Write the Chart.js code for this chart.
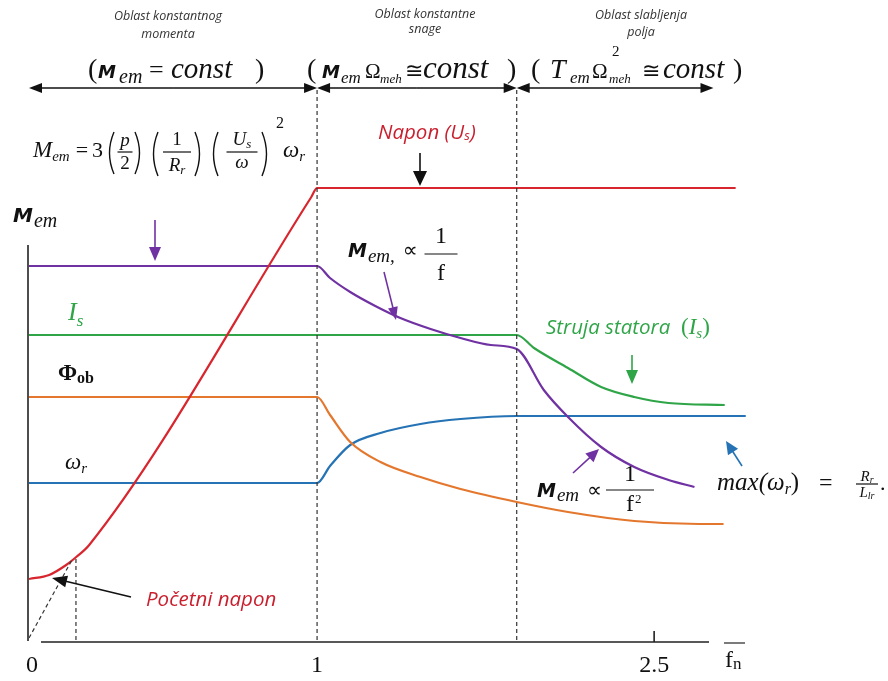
<!DOCTYPE html>
<html>
<head>
<meta charset="utf-8">
<script src="https://cdn.jsdelivr.net/npm/chart.js@4.4.1/dist/chart.umd.min.js"></script>
<style>
  html, body { margin: 0; padding: 0; background: #fff; }
</style>
</head>
<body>
<canvas id="fnChart" width="888" height="681"></canvas>
<script>
// x: f / fn (relative stator frequency), y: relative magnitude
var xTickValues = [0, 1, 2.17];
var xTickLabels = ['0', '1', '2.5'];
var regionBounds = [0, 1, 1.693, 2.376];

var naponUs = [[0, 0.61], [0.07, 0.65], [0.129, 0.75], [0.164, 0.83], [0.209, 0.95], [0.98, 4.43], [1, 4.52], [2.453, 4.52]];
var momentMem = [[0, 3.74], [1, 3.74], [1.045, 3.62], [1.115, 3.48], [1.202, 3.34], [1.289, 3.22], [1.394, 3.11],
  [1.498, 3.02], [1.603, 2.95], [1.693, 2.91], [1.787, 2.50], [1.871, 2.23], [1.986, 1.93], [2.101, 1.73],
  [2.22, 1.60], [2.31, 1.53]];
var strujaIs = [[0, 3.05], [1.693, 3.05], [1.753, 2.92], [1.871, 2.72], [1.986, 2.53], [2.101, 2.43],
  [2.22, 2.37], [2.415, 2.35]];
var fluksPhi = [[0, 2.43], [1, 2.43], [1.045, 2.25], [1.115, 1.98], [1.22, 1.78], [1.359, 1.63], [1.498, 1.51],
  [1.693, 1.38], [1.871, 1.28], [2.101, 1.19], [2.324, 1.16], [2.411, 1.16]];
var omegaR = [[0, 1.57], [1, 1.57], [1.045, 1.74], [1.115, 1.95], [1.22, 2.07], [1.359, 2.16], [1.498, 2.21],
  [1.693, 2.24], [2.488, 2.24]];

// helper lines: start voltage construction and region borders
var startDiag = [[0, 0.02], [0.149, 0.80]];
var startVert = [[0.163, 0], [0.163, 0.83]];
var border1 = [[1, 0], [1, 5.52]];
var border2 = [[1.693, 0], [1.693, 5.52]];

var RED = '#d8262f', PURPLE = '#7031a2', GREEN = '#2fa548', ORANGE = '#e4772e', BLUE = '#2573b4';
var TXT_RED = '#c9202f';
var SERIF = '"Liberation Serif", "DejaVu Serif", serif';
var SANS = '"Open Sans", "Noto Sans", sans-serif';
var MBOLD = 'italic bold 18px "DejaVu Sans"';

function pts(a) {
  return a.map(function (p) { return { x: p[0], y: p[1] }; });
}
function curve(a, color) {
  return { data: pts(a), borderColor: color, borderWidth: 2.2, pointRadius: 0, fill: false,
    cubicInterpolationMode: 'monotone' };
}
function dashed(a) {
  return { data: pts(a), borderColor: '#333', borderWidth: 1.2, borderDash: [4, 3], pointRadius: 0, tension: 0 };
}

function txt(ctx, s, x, y, font, color, align) {
  ctx.font = font;
  ctx.fillStyle = color || '#111';
  ctx.textAlign = align || 'left';
  ctx.textBaseline = 'alphabetic';
  ctx.fillText(s, x, y);
  return x + ctx.measureText(s).width;
}
// pieces: [text, font, dy, gapAfter]
function run(ctx, x, y, pieces, color) {
  pieces.forEach(function (p) {
    x = txt(ctx, p[0], x, y + (p[2] || 0), p[1], color) + (p[3] || 0);
  });
  return x;
}
function runWidth(ctx, pieces) {
  var w = 0;
  pieces.forEach(function (p) { ctx.font = p[1]; w += ctx.measureText(p[0]).width + (p[3] || 0); });
  return w;
}
function frac(ctx, cx, barY, w, num, den, numDy, denDy, color) {
  ctx.strokeStyle = color || '#111';
  ctx.lineWidth = 1.2;
  ctx.beginPath();
  ctx.moveTo(cx - w / 2, barY);
  ctx.lineTo(cx + w / 2, barY);
  ctx.stroke();
  run(ctx, cx - runWidth(ctx, num) / 2, barY - numDy, num, color);
  run(ctx, cx - runWidth(ctx, den) / 2, barY + denDy, den, color);
}
function paren(ctx, x, top, bot, open) {
  var mid = (top + bot) / 2;
  ctx.strokeStyle = '#111';
  ctx.lineWidth = 1.4;
  ctx.beginPath();
  if (open) {
    ctx.moveTo(x + 6, top);
    ctx.quadraticCurveTo(x - 3, mid, x + 6, bot);
  } else {
    ctx.moveTo(x, top);
    ctx.quadraticCurveTo(x + 9, mid, x, bot);
  }
  ctx.stroke();
}
function arrow(ctx, x1, y1, x2, y2, color, len, half, lw) {
  var a = Math.atan2(y2 - y1, x2 - x1), c = Math.cos(a), s = Math.sin(a);
  ctx.strokeStyle = color;
  ctx.fillStyle = color;
  ctx.lineWidth = lw || 1.6;
  ctx.beginPath();
  ctx.moveTo(x1, y1);
  ctx.lineTo(x2 - c * len * 0.8, y2 - s * len * 0.8);
  ctx.stroke();
  ctx.beginPath();
  ctx.moveTo(x2, y2);
  ctx.lineTo(x2 - c * len + s * half, y2 - s * len - c * half);
  ctx.lineTo(x2 - c * len - s * half, y2 - s * len + c * half);
  ctx.closePath();
  ctx.fill();
}

var diagramText = {
  id: 'diagramText',
  afterDatasetsDraw: function (chart) {
    var ctx = chart.ctx;
    var xs = chart.scales.x, ys = chart.scales.y;
    var x0 = xs.getPixelForValue(0), yBase = ys.getPixelForValue(0);
    ctx.save();

    // axes
    ctx.strokeStyle = '#222';
    ctx.lineWidth = 1.6;
    ctx.beginPath();
    ctx.moveTo(x0 - 1, 245);
    ctx.lineTo(x0 - 1, yBase + 1);
    ctx.moveTo(x0 + 12, yBase + 2);
    ctx.lineTo(709, yBase + 2);
    var tx = xs.getPixelForValue(xTickValues[2]);
    ctx.moveTo(tx, yBase + 2);
    ctx.lineTo(tx, yBase - 9);
    ctx.stroke();
    xTickValues.forEach(function (v, i) {
      txt(ctx, xTickLabels[i], xs.getPixelForValue(v) + (i === 0 ? 3 : 0), yBase + 32, '24px ' + SERIF, '#111', 'center');
    });
    // f / fn
    ctx.lineWidth = 1.2;
    ctx.beginPath();
    ctx.moveTo(724, yBase + 3);
    ctx.lineTo(745, yBase + 3);
    ctx.stroke();
    run(ctx, 725, yBase + 27, [['f', '24px ' + SERIF], ['n', '17px ' + SERIF, 2]]);

    // region captions
    var cap = 'italic 12.5px ' + SANS;
    txt(ctx, 'Oblast konstantnog', 168, 20, cap, '#333', 'center');
    txt(ctx, 'momenta', 168, 38, cap, '#333', 'center');
    txt(ctx, 'Oblast konstantne', 425, 18, cap, '#333', 'center');
    txt(ctx, 'snage', 425, 33, cap, '#333', 'center');
    txt(ctx, 'Oblast slabljenja', 641, 19, cap, '#333', 'center');
    txt(ctx, 'polja', 641, 36, cap, '#333', 'center');

    // region conditions
    var yc = 78;
    var par = '28px ' + SERIF, con = 'italic 29px ' + SERIF, sub = 'italic 20px ' + SERIF;
    var sub2 = 'italic 17px ' + SERIF, om = '21px ' + SERIF, meh = 'italic 13px ' + SERIF, cong = '22px ' + SERIF;
    txt(ctx, '(', 88, yc, par);
    txt(ctx, 'M', 98, yc, MBOLD);
    txt(ctx, 'em', 119, yc + 5, sub);
    txt(ctx, '=', 149, yc, '26px ' + SERIF);
    txt(ctx, 'const', 171, yc, con);
    txt(ctx, ')', 255, yc, par);

    txt(ctx, '(', 307, yc, par);
    txt(ctx, 'M', 322, yc, MBOLD);
    txt(ctx, 'em', 341, yc + 5, sub2);
    txt(ctx, '\u03A9', 365, yc, om);
    txt(ctx, 'meh', 380, yc + 5, meh);
    txt(ctx, '\u2245', 405, yc, cong);
    txt(ctx, 'const', 423, yc, 'italic 31px ' + SERIF);
    txt(ctx, ')', 507, yc, par);

    txt(ctx, '(', 531, yc, par);
    txt(ctx, 'T', 550, yc, 'italic 28px ' + SERIF);
    txt(ctx, 'em', 570, yc + 5, sub2);
    txt(ctx, '\u03A9', 592, yc, om);
    txt(ctx, '2', 612, 56, '15px ' + SERIF);
    txt(ctx, 'meh', 609, yc + 5, meh);
    txt(ctx, '\u2245', 642, yc, cong);
    txt(ctx, 'const', 663, yc, con);
    txt(ctx, ')', 733, yc, par);

    // region span arrows
    var ya = 88;
    for (var i = 0; i < regionBounds.length - 1; i++) {
      var a = xs.getPixelForValue(regionBounds[i]), b = xs.getPixelForValue(regionBounds[i + 1]);
      var m = (a + b) / 2;
      arrow(ctx, m, ya, a, ya, '#111', 13, 5, 1.6);
      arrow(ctx, m, ya, b, ya, '#111', 13, 5, 1.6);
    }

    // torque formula
    var yf = 157, fi = 'italic 23px ' + SERIF, fs = 'italic 15px ' + SERIF, fn = '22px ' + SERIF;
    run(ctx, 33, yf, [['M', fi], ['em', fs, 4, 6], ['=', fn, 0, 4], ['3', fn]]);
    paren(ctx, 108, 132, 174, true);
    frac(ctx, 125, 152, 15, [['p', 'italic 19px ' + SERIF]], [['2', '19px ' + SERIF]], 6, 17);
    paren(ctx, 135, 132, 174, false);
    paren(ctx, 152, 132, 176, true);
    frac(ctx, 177, 152, 28, [['1', '19px ' + SERIF]], [['R', 'italic 19px ' + SERIF], ['r', 'italic 13px ' + SERIF, 3]], 7, 19);
    paren(ctx, 195, 132, 176, false);
    paren(ctx, 212, 132, 176, true);
    frac(ctx, 242, 152, 31, [['U', 'italic 19px ' + SERIF], ['s', 'italic 13px ' + SERIF, 3]], [['\u03C9', 'italic 19px ' + SERIF]], 7, 16);
    paren(ctx, 262, 132, 176, false);
    txt(ctx, '2', 276, 128, '16px ' + SERIF);
    run(ctx, 283, yf, [['\u03C9', fi], ['r', fs, 4]]);

    // axis title
    run(ctx, 13, 222, [['M', 'italic bold 20px "DejaVu Sans"', 0, 1], ['em', 'italic 20px ' + SERIF, 5]]);

    // curve labels
    run(ctx, 68, 320, [['I', 'italic 26px ' + SERIF], ['s', 'italic 17px ' + SERIF, 6]], GREEN);
    run(ctx, 58, 380, [['\u03A6', 'bold 23px ' + SERIF], ['ob', 'bold 16px ' + SERIF, 3]]);
    run(ctx, 65, 469, [['\u03C9', 'italic 23px ' + SERIF], ['r', 'italic 15px ' + SERIF, 4]]);

    run(ctx, 378, 139, [['Napon (U', 'italic 20.5px ' + SANS], ['s', 'italic 13px ' + SANS, 1], [')', 'italic 20.5px ' + SANS]], TXT_RED);
    txt(ctx, 'Po\u010Detni napon', 146, 606, 'italic 20.5px ' + SANS, TXT_RED);
    txt(ctx, 'Struja statora', 546, 334, 'italic 20.5px ' + SANS, GREEN);
    run(ctx, 681, 334, [['(', '23px ' + SERIF], ['I', 'italic 23px ' + SERIF], ['s', 'italic 15px ' + SERIF, 4], [')', '23px ' + SERIF]], GREEN);

    // M ~ 1/f
    run(ctx, 348, 257, [['M', 'italic bold 19px "DejaVu Sans"', 0, 1], ['em,', 'italic 19px ' + SERIF, 5, 8], ['\u221D', '21px "DejaVu Sans"']]);
    frac(ctx, 441, 254, 33, [['1', '24px ' + SERIF]], [['f', '24px ' + SERIF]], 11, 26);
    // M ~ 1/f^2
    run(ctx, 537, 497, [['M', 'italic bold 19px "DejaVu Sans"', 0, 1], ['em', 'italic 19px ' + SERIF, 4, 8], ['\u221D', '21px "DejaVu Sans"']]);
    frac(ctx, 630, 490, 48, [['1', '24px ' + SERIF]], [['f', '24px ' + SERIF]], 9, 21);
    txt(ctx, '2', 635, 503, '13px ' + SERIF);
    // rotor slip limit
    run(ctx, 717, 490, [['max(', 'italic 25px ' + SERIF], ['\u03C9', 'italic 25px ' + SERIF], ['r', 'italic 16px ' + SERIF, 4],
      [')', '25px ' + SERIF]]);
    txt(ctx, '=', 819, 490, '24px ' + SERIF);
    frac(ctx, 867, 484, 22, [['R', 'italic 15px ' + SERIF], ['r', 'italic 10px ' + SERIF, 2]],
      [['L', 'italic 15px ' + SERIF], ['lr', 'italic 10px ' + SERIF, 2]], 3, 13);
    txt(ctx, '.', 880, 490, '22px ' + SERIF);

    // pointer arrows
    arrow(ctx, 155, 220, 155, 261, PURPLE, 14, 6, 1.6);
    arrow(ctx, 420, 153, 420, 186, '#111', 15, 7, 1.6);
    arrow(ctx, 384, 272, 396, 320, PURPLE, 13, 5, 1.6);
    arrow(ctx, 632, 355, 632, 384, GREEN, 14, 6, 1.6);
    arrow(ctx, 573, 473, 599, 449, PURPLE, 13, 6, 1.6);
    arrow(ctx, 742, 466, 726, 441, BLUE, 13, 6, 1.6);
    arrow(ctx, 131, 597, 52, 578, '#111', 15, 6, 1.6);

    ctx.restore();
  }
};

new Chart(document.getElementById('fnChart'), {
  type: 'line',
  data: {
    datasets: [
      dashed(border1), dashed(border2), dashed(startDiag), dashed(startVert),
      curve(naponUs, RED),
      curve(momentMem, PURPLE),
      curve(strujaIs, GREEN),
      curve(fluksPhi, ORANGE),
      curve(omegaR, BLUE)
    ]
  },
  options: {
    responsive: false,
    animation: false,
    layout: { padding: { left: 29, right: 110, top: 40, bottom: 41 } },
    plugins: { legend: { display: false }, tooltip: { enabled: false } },
    scales: {
      x: { type: 'linear', display: false, min: 0, max: 2.6 },
      y: { type: 'linear', display: false, min: 0, max: 6 }
    }
  },
  plugins: [diagramText]
});
</script>
</body>
</html>
